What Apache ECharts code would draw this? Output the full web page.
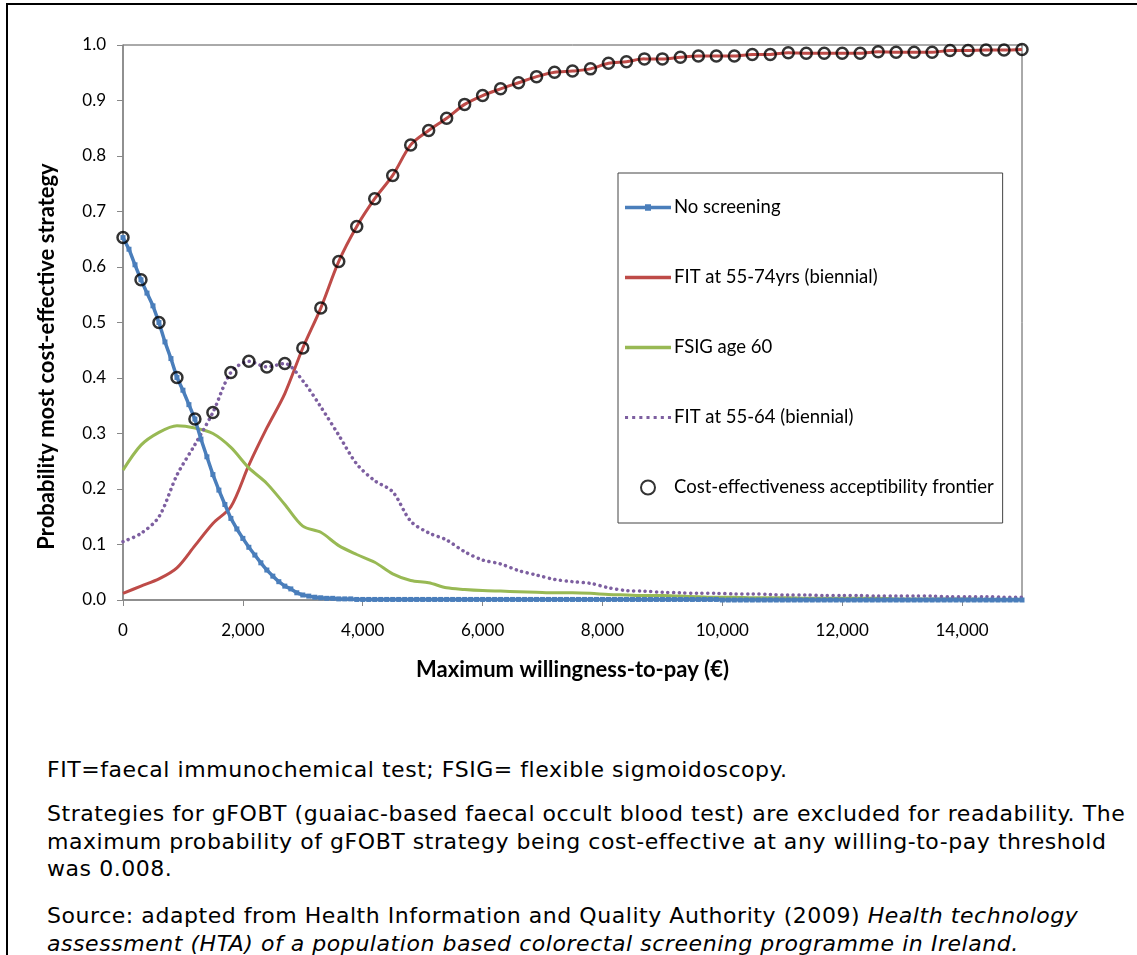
<!DOCTYPE html>
<html>
<head>
<meta charset="utf-8">
<script src="https://cdn.jsdelivr.net/npm/echarts@6/dist/echarts.min.js"></script>
<style>
  body { margin: 0; background: #fff; }
  .frame {
    position: absolute; left: 6px; top: 3px;
    width: 1150px; height: 970px;
    border: 2px solid #000;
    box-sizing: border-box;
  }
  #chart { position: absolute; left: 0; top: 0; width: 1137px; height: 720px; }
  .note {
    position: absolute; left: 47px;
    font-family: 'DejaVu Sans', sans-serif;
    font-size: 22px; line-height: 27.5px; color: #000;
    letter-spacing: 0.55px;
    white-space: nowrap;
  }
</style>
</head>
<body>
<div class="frame"></div>
<div id="chart"></div>
<div class="note" style="top: 756px;">FIT=faecal immunochemical test; FSIG= flexible sigmoidoscopy.</div>
<div class="note" style="top: 800px;">Strategies for gFOBT (guaiac-based faecal occult blood test) are excluded for readability. The<br>maximum probability of gFOBT strategy being cost-effective at any willing-to-pay threshold<br>was 0.008.</div>
<div class="note" style="top: 902px;">Source: adapted from Health Information and Quality Authority (2009) <i>Health technology</i><br><i>assessment (HTA) of a population based colorectal screening programme in Ireland.</i></div>

<script>
  // 阈值（€）：蓝线每 100 一个点，其余每 300 一个点
  const fineStep = 100
  const coarseStep = 300
  const xTicks = [0, 2000, 4000, 6000, 8000, 10000, 12000, 14000]

  const noScreening = [
    0.653, 0.632, 0.604, 0.577, 0.553, 0.530, 0.500, 0.465, 0.435, 0.401,
    0.378, 0.352, 0.326, 0.290, 0.258, 0.226, 0.198, 0.172, 0.147, 0.128,
    0.111, 0.095, 0.081, 0.067, 0.054, 0.043, 0.033, 0.025, 0.020, 0.013,
    0.009, 0.007, 0.005, 0.004, 0.003, 0.003, 0.002, 0.002, 0.002, 0.001,
    0.001, 0.001, 0.001, 0.001, 0.001, 0.001, 0.001, 0.001, 0.001, 0.001,
    0.001, 0.001, 0.001, 0.001, 0.001, 0.001, 0.001, 0.001, 0.001, 0.001,
    0.001, 0.001, 0.001, 0.001, 0.001, 0.001, 0.001, 0.001, 0.001, 0.001,
    0.001, 0.001, 0.001, 0.001, 0.001, 0.001, 0.001, 0.001, 0.001, 0.001,
    0.001, 0.001, 0.001, 0.001, 0.001, 0.001, 0.001, 0.001, 0.001, 0.001,
    0.001, 0.001, 0.001, 0.001, 0.001, 0.001, 0.001, 0.001, 0.001, 0.001,
    0, 0, 0, 0, 0, 0, 0, 0, 0, 0,
    0, 0, 0, 0, 0, 0, 0, 0, 0, 0,
    0, 0, 0, 0, 0, 0, 0, 0, 0, 0,
    0, 0, 0, 0, 0, 0, 0, 0, 0, 0,
    0, 0, 0, 0, 0, 0, 0, 0, 0, 0,
    0
  ]
  const fit5574 = [
    0.012, 0.025, 0.038, 0.058, 0.098, 0.138, 0.168, 0.243, 0.310, 0.372,
    0.454, 0.526, 0.610, 0.673, 0.723, 0.765, 0.820, 0.846, 0.868, 0.893,
    0.909, 0.921, 0.932, 0.943, 0.951, 0.953, 0.957, 0.967, 0.970, 0.975,
    0.975, 0.978, 0.980, 0.980, 0.980, 0.983, 0.983, 0.986, 0.985, 0.985,
    0.985, 0.985, 0.988, 0.987, 0.987, 0.987, 0.990, 0.990, 0.991, 0.991,
    0.992
  ]
  const fsig60 = [
    0.234, 0.279, 0.302, 0.314, 0.310, 0.300, 0.275, 0.238, 0.210, 0.172,
    0.133, 0.122, 0.098, 0.082, 0.068, 0.047, 0.035, 0.031, 0.022, 0.019,
    0.017, 0.016, 0.015, 0.014, 0.013, 0.013, 0.012, 0.010, 0.009, 0.008,
    0.008, 0.007, 0.006, 0.005, 0.005, 0.004, 0.004, 0.004, 0.003, 0.003,
    0.003, 0.003, 0.003, 0.002, 0.002, 0.002, 0.002, 0.002, 0.001, 0.001,
    0.001
  ]
  const fit5564 = [
    0.105, 0.120, 0.150, 0.225, 0.280, 0.338, 0.410, 0.430, 0.420, 0.426,
    0.395, 0.348, 0.297, 0.245, 0.215, 0.195, 0.142, 0.121, 0.108, 0.087,
    0.072, 0.065, 0.053, 0.045, 0.037, 0.033, 0.030, 0.022, 0.017, 0.016,
    0.014, 0.013, 0.012, 0.012, 0.011, 0.011, 0.010, 0.009, 0.009, 0.008,
    0.008, 0.008, 0.007, 0.007, 0.007, 0.007, 0.006, 0.006, 0.006, 0.005,
    0.005
  ]
  const frontier = [
    0.653, 0.577, 0.500, 0.401, 0.326, 0.338, 0.410, 0.430, 0.420, 0.426,
    0.454, 0.526, 0.610, 0.673, 0.723, 0.765, 0.820, 0.846, 0.868, 0.893,
    0.909, 0.921, 0.932, 0.943, 0.951, 0.953, 0.957, 0.967, 0.970, 0.975,
    0.975, 0.978, 0.980, 0.980, 0.980, 0.983, 0.983, 0.986, 0.985, 0.985,
    0.985, 0.985, 0.988, 0.987, 0.987, 0.987, 0.990, 0.990, 0.991, 0.991,
    0.992
  ]

  const names = [
    'No screening',
    'FIT at 55-74yrs (biennial)',
    'FSIG age 60',
    'FIT at 55-64 (biennial)',
    'Cost-effectiveness acceptibility frontier'
  ]

  // 图例图标：线段 / 带方块的线段 / 点线
  const lineIcon = 'path://M0,0H46V3.5H0Z'
  const markerLineIcon = 'path://M0,1.5H46V5H0Z M20,0H26V6.5H20Z'
  const dotIcon = 'path://M0,0h3v3h-3z M7,0h3v3h-3z M14,0h3v3h-3z M21,0h3v3h-3z M28,0h3v3h-3z M35,0h3v3h-3z M42,0h3v3h-3z'

  const pairs = (arr, step) => arr.map((v, i) => [i * step, v])
  const font = 'Lato, "Open Sans", sans-serif'

  const myChart = echarts.init(document.getElementById('chart'))
  myChart.setOption({
    animation: false,
    textStyle: { fontFamily: font },
    grid: {
      left: 123, top: 45, width: 899, height: 555,
      show: true, borderColor: '#555', borderWidth: 1
    },
    legend: {
      orient: 'vertical',
      left: 618, top: 173,
      data: [
        { name: names[0], icon: markerLineIcon },
        { name: names[1], icon: lineIcon },
        { name: names[2], icon: lineIcon },
        { name: names[3], icon: dotIcon },
        { name: names[4] }
      ],
      itemWidth: 46,
      itemHeight: 14,
      itemGap: 51,
      padding: [25, 9, 26, 7],
      borderColor: '#444',
      borderWidth: 1,
      textStyle: { fontSize: 18.5, color: '#000', padding: [0, 0, 0, -2] }
    },
    xAxis: {
      type: 'value',
      min: 0,
      max: 15000,
      interval: 2000,
      name: 'Maximum willingness-to-pay (€)',
      nameLocation: 'middle',
      nameGap: 59,
      nameTextStyle: { fontSize: 22, fontWeight: 'bold', color: '#000' },
      splitLine: { show: false },
      axisLine: { lineStyle: { color: '#888', width: 1.5 } },
      axisTick: { length: 6, lineStyle: { color: '#888' } },
      axisLabel: {
        fontSize: 17, color: '#000', margin: 22, showMaxLabel: false,
        formatter: v => xTicks.includes(v) ? v.toLocaleString('en-US') : ''
      }
    },
    yAxis: {
      type: 'value',
      min: 0,
      max: 1,
      interval: 0.1,
      name: 'Probability most cost-effective strategy',
      nameLocation: 'middle',
      nameGap: 65,
      nameTextStyle: { fontSize: 22, fontWeight: 'bold', color: '#000', padding: [0, 68, 0, 0] },
      splitLine: { show: false },
      axisLine: { show: true, lineStyle: { color: '#888', width: 1.5 } },
      axisTick: { show: true, length: 6, lineStyle: { color: '#888' } },
      axisLabel: { fontSize: 17, color: '#000', margin: 17, formatter: v => v.toFixed(1) }
    },
    series: [
      {
        name: names[0],
        type: 'line',
        data: pairs(noScreening, fineStep),
        symbol: 'rect',
        symbolSize: 5,
        itemStyle: { color: '#4A7EBB' },
        lineStyle: { width: 3.5, color: '#4A7EBB' },
        z: 3
      },
      {
        name: names[1],
        type: 'line',
        data: pairs(fit5574, coarseStep),
        symbol: 'none',
        smooth: 0.3,
        itemStyle: { color: '#BE4B48' },
        lineStyle: { width: 3, color: '#BE4B48' },
        z: 2
      },
      {
        name: names[2],
        type: 'line',
        data: pairs(fsig60, coarseStep),
        symbol: 'none',
        smooth: 0.3,
        itemStyle: { color: '#98B954' },
        lineStyle: { width: 3, color: '#98B954' },
        z: 2
      },
      {
        name: names[3],
        type: 'line',
        data: pairs(fit5564, coarseStep),
        symbol: 'none',
        smooth: 0.3,
        itemStyle: { color: '#7D5FA0' },
        lineStyle: { width: 3.5, color: '#7D5FA0', type: [0.1, 5.6], cap: 'round' },
        z: 2
      },
      {
        name: names[4],
        type: 'scatter',
        data: pairs(frontier, coarseStep),
        symbol: 'circle',
        symbolSize: 11,
        itemStyle: { color: 'rgba(0,0,0,0)', borderColor: '#000', borderWidth: 2.5 },
        z: 5
      }
    ]
  })
</script>
</body>
</html>
